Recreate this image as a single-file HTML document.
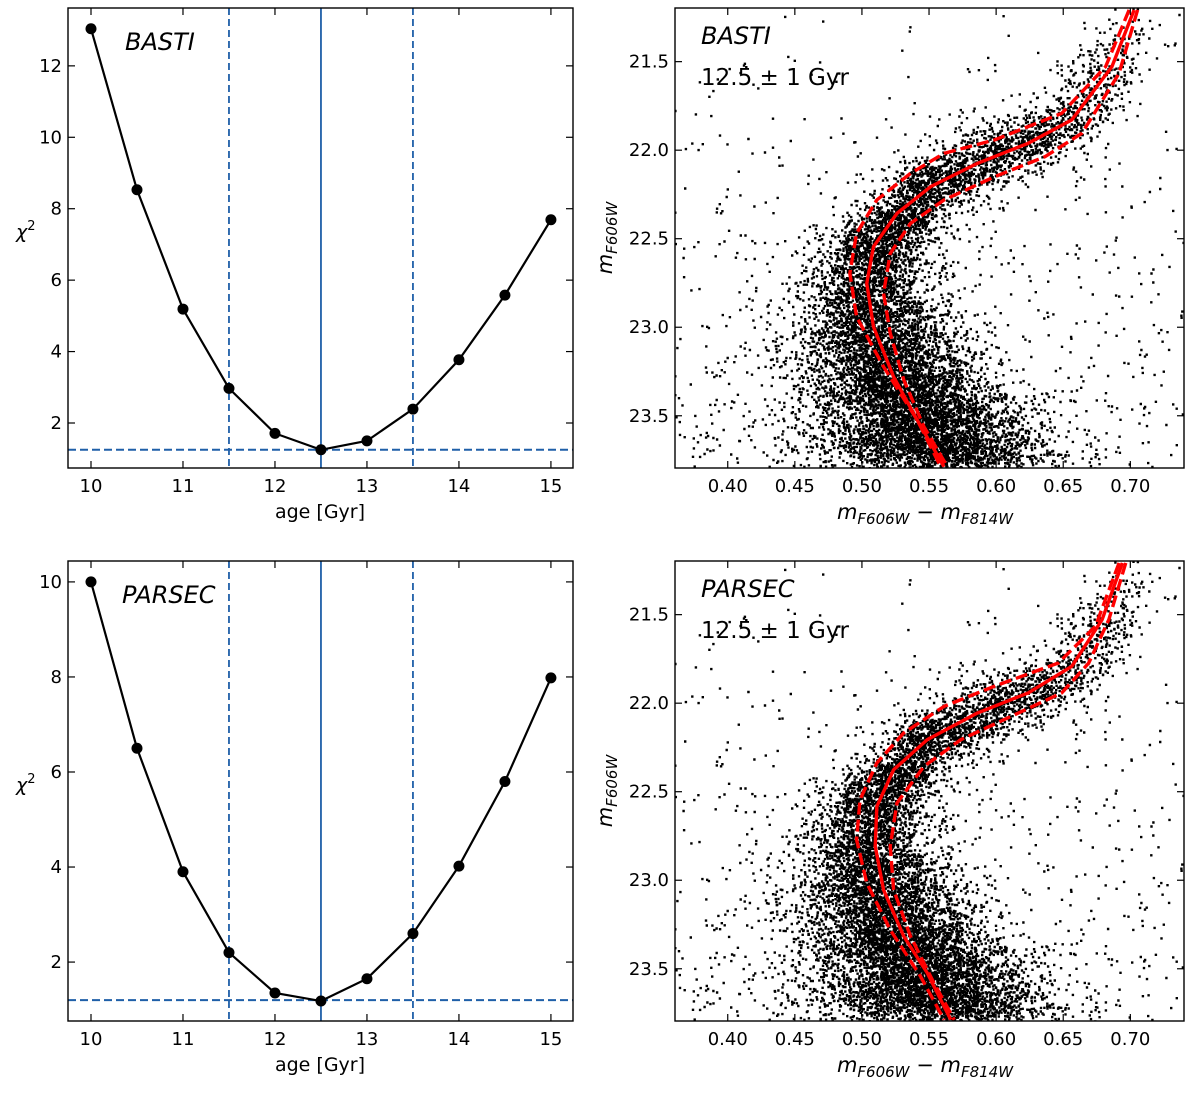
<!DOCTYPE html>
<html><head><meta charset="utf-8">
<style>
html,body{margin:0;padding:0;background:#fff;}
svg{display:block;font-family:"DejaVu Sans","Liberation Sans",sans-serif;}
</style></head>
<body>
<svg id="fig" width="1200" height="1093" viewBox="0 0 1200 1093" xmlns="http://www.w3.org/2000/svg"></svg>
<script>
// ---- chi2 panels data ----
const ages = [10,10.5,11,11.5,12,12.5,13,13.5,14,14.5,15];
const chiBasti = [13.04,8.53,5.19,2.97,1.71,1.25,1.50,2.39,3.77,5.58,7.69];
const chiParsec = [10.0,6.5,3.9,2.2,1.35,1.18,1.65,2.6,4.02,5.8,7.98];
const chiTicksTop = [2,4,6,8,10,12];
const chiTicksBot = [2,4,6,8,10];
const ageTicks = [10,11,12,13,14,15];
const bestAge = 12.5, ageLo = 11.5, ageHi = 13.5;
const minChiBasti = 1.25, minChiParsec = 1.2;
// ---- CMD data ----
const colTicks = [0.40,0.45,0.50,0.55,0.60,0.65,0.70];
const magTicks = [21.5,22.0,22.5,23.0,23.5];
const mags1 = [21.208,21.528,21.829,21.961,22.074,22.206,22.357,22.545,22.752,22.997,23.280,23.524,23.788];
const bastiMid = [0.7028,0.6863,0.6564,0.6239,0.5862,0.5512,0.5261,0.5086,0.5036,0.5086,0.5236,0.5412,0.5612];
const bastiYoungMag = [21.208,21.528,21.792,21.942,22.018,22.131,22.281,22.470,22.696,22.941,23.223,23.524,23.788];
const bastiYoung = [0.6991,0.6816,0.6489,0.5988,0.5612,0.5362,0.5111,0.4960,0.4910,0.4960,0.5161,0.5412,0.5587];
const bastiOldMag = [21.208,21.566,21.904,22.037,22.150,22.281,22.413,22.583,22.808,23.034,23.298,23.562,23.788];
const bastiOld = [0.7054,0.6916,0.6640,0.6364,0.5988,0.5612,0.5362,0.5211,0.5161,0.5211,0.5312,0.5462,0.5637];
const parsecMidMag = [21.208,21.528,21.792,21.942,22.055,22.206,22.376,22.583,22.808,23.054,23.317,23.524,23.788];
const parsecMid = [0.6941,0.6790,0.6564,0.6239,0.5862,0.5487,0.5236,0.5111,0.5099,0.5161,0.5312,0.5487,0.5662];
const parsecYoungMag = [21.208,21.566,21.773,21.904,22.018,22.168,22.338,22.545,22.771,23.016,23.280,23.543,23.788];
const parsecYoung = [0.6916,0.6740,0.6464,0.5988,0.5612,0.5312,0.5111,0.4986,0.4960,0.5036,0.5211,0.5437,0.5612];
const parsecOldMag = [21.208,21.528,21.773,21.942,22.074,22.206,22.357,22.564,22.808,23.054,23.317,23.581,23.788];
const parsecOld = [0.6966,0.6840,0.6690,0.6489,0.6113,0.5737,0.5462,0.5261,0.5211,0.5236,0.5362,0.5537,0.5688];

const NS="http://www.w3.org/2000/svg";
const svg=document.getElementById('fig');
function mk(tag,attrs,parent){const e=document.createElementNS(NS,tag);for(const k in attrs)e.setAttribute(k,attrs[k]);(parent||svg).appendChild(e);return e;}
function lin(d0,d1,r0,r1){return v=>r0+(v-d0)*(r1-r0)/(d1-d0);}

function frame(g,L,T,R,B,xs,ys,xt,yt,xfmt,yfmt){
  for(const v of xt){const x=xs(v);
    const t=mk('line',{x1:x,x2:x,y1:B,y2:B-7,stroke:'#000','stroke-width':1.2},g);
    
    mk('line',{x1:x,x2:x,y1:T,y2:T+7,stroke:'#000','stroke-width':1.2},g);
    const l=mk('text',{x:x,y:B+24,'font-size':18,'text-anchor':'middle'},g);l.textContent=xfmt(v);
    }
  for(const v of yt){const y=ys(v);
    mk('line',{x1:L,x2:L+7,y1:y,y2:y,stroke:'#000','stroke-width':1.2},g);
    mk('line',{x1:R,x2:R-7,y1:y,y2:y,stroke:'#000','stroke-width':1.2},g);
    const l=mk('text',{x:L-6,y:y+6,'font-size':18,'text-anchor':'end'},g);l.textContent=yfmt(v);
    }
  const r=mk('rect',{x:L,y:T,width:R-L,height:B-T,fill:'none',stroke:'#000','stroke-width':1.4},g);
  
}

function chiPanel(T,B,ymin,ymax,vals,minv,ticks,name,lx){
  const L=68,R=573;
  const g=mk('g',{});
  const xs=lin(9.75,15.24,L,R), ys=lin(ymin,ymax,B,T);
  const blue='#1f5fa8';
  for(const a of [ageLo,ageHi]){const d=mk('line',{x1:xs(a),x2:xs(a),y1:T,y2:B,stroke:blue,'stroke-width':1.8,'stroke-dasharray':'7,4'},g);
    }
  const s=mk('line',{x1:xs(bestAge),x2:xs(bestAge),y1:T,y2:B,stroke:blue,'stroke-width':1.8},g);
  
  const h=mk('line',{x1:L,x2:R,y1:ys(minv),y2:ys(minv),stroke:blue,'stroke-width':2,'stroke-dasharray':'8,4'},g);
  
  const pl=mk('polyline',{points:ages.map((a,i)=>xs(a)+','+ys(vals[i])).join(' '),fill:'none',stroke:'#000','stroke-width':2.2},g);
  
  ages.forEach((a,i)=>{const c=mk('circle',{cx:xs(a),cy:ys(vals[i]),r:5.5,fill:'#000'},g);
    });
  frame(g,L,T,R,B,xs,ys,ageTicks,ticks,v=>String(v),v=>String(v));
  const t=mk('text',{x:lx,y:T+42,'font-size':24,'font-style':'italic'},g);t.textContent=name;
  
  const xl=mk('text',{x:320,y:B+50,'font-size':19,'text-anchor':'middle'},g);xl.textContent='age [Gyr]';
  
  const yl=mk('text',{x:16,y:(T+B)/2,'font-size':19,'font-style':'italic'},g);yl.innerHTML='χ<tspan font-size="13" dy="-8" font-style="normal">2</tspan>';
  
}
chiPanel(8,468,0.74,13.62,chiBasti,minChiBasti,chiTicksTop,'BASTI',125);
chiPanel(561,1021,0.76,10.44,chiParsec,minChiParsec,chiTicksBot,'PARSEC',122);

// seeded PRNG for star field
let seed=12345;function rnd(){seed=(seed*1664525+1013904223)>>>0;return seed/4294967296;}
function gauss(){let u=rnd()||1e-9,v=rnd();return Math.sqrt(-2*Math.log(u))*Math.cos(2*Math.PI*v);}
const stars=[];
(function(){
  const L=675,R=1184,T=8,B=468;const xs=lin(0.3607,0.740,L,R), ys=lin(21.197,23.795,T,B);
  const pts=mags1.map((m,i)=>[xs(bastiMid[i]),ys(m)]);
  const seg=[];let tot=0;
  for(let i=0;i<pts.length-1;i++){const dx=pts[i+1][0]-pts[i][0],dy=pts[i+1][1]-pts[i][1];const len=Math.hypot(dx,dy);
    const mm=(mags1[i]+mags1[i+1])/2;const w=len*Math.pow(mm-21.0,1.8);seg.push([i,w]);tot+=w;}
  const xinv=lin(L,R,0.3607,0.740), yinv=lin(T,B,21.197,23.795);
  for(let k=0;k<10500;k++){
    let r=rnd()*tot,i=0;while(i<seg.length-1&&r>seg[i][1]){r-=seg[i][1];i++;}
    const f=rnd();const x=pts[i][0]+(pts[i+1][0]-pts[i][0])*f,y=pts[i][1]+(pts[i+1][1]-pts[i][1])*f;
    const mag=yinv(y);
    const wide=rnd()<0.15?1.8:1;
    let sx,sy,off=0;
    if(mag>22.35){sx=20+(mag-22.35)*24;sy=8;off=2;}
    else {sx=16;sy=14;}
    stars.push([xinv(x+off+gauss()*sx*wide),yinv(y+gauss()*sy*wide)]);
  }
  for(let k=0;k<650;k++){stars.push([0.36+rnd()*0.38,21.2+Math.pow(rnd(),0.6)*2.6]);}
})();

function cmdPanel(T,name,mid,midM,yg,ygM,od,odM){
  const L=675,R=1184,B=T+460;
  const g=mk('g',{});
  const xs=lin(0.3607,0.740,L,R), ys=lin(21.197,23.795,T,B);
  mk('clipPath',{id:'c'+T},g).appendChild(document.createElementNS(NS,'rect'));
  const cr=g.querySelector('clipPath rect');cr.setAttribute('x',L);cr.setAttribute('y',T);cr.setAttribute('width',R-L);cr.setAttribute('height',B-T);
  const sg=mk('g',{'clip-path':'url(#c'+T+')'},g);
  
  let d='';
  for(const s of stars){const x=xs(s[0]),y=ys(s[1]);d+='M'+(x-1.2).toFixed(1)+' '+y.toFixed(1)+'h2.4';}
  mk('path',{d:d,stroke:'#000','stroke-width':2.4,fill:'none'},sg);
  const line=(cs,ms,dash,nm)=>{const p=mk('polyline',{points:cs.map((c,i)=>xs(c)+','+ys(ms[i])).join(' '),fill:'none',stroke:'#ff0000','stroke-width':3.4,'stroke-linejoin':'round'},sg);
    if(dash)p.setAttribute('stroke-dasharray','12,5');
    };
  line(yg,ygM,true,'isochrone-11.5-gyr');line(od,odM,true,'isochrone-13.5-gyr');line(mid,midM,false,'isochrone-12.5-gyr');
  frame(g,L,T,R,B,xs,ys,colTicks,magTicks,v=>v.toFixed(2),v=>v.toFixed(1));
  const t=mk('text',{x:701,y:T+36,'font-size':24,'font-style':'italic'},g);t.textContent=name;
  
  const t2=mk('text',{x:701,y:T+77,'font-size':23},g);t2.textContent='12.5 ± 1 Gyr';
  
  const xl=mk('text',{x:925,y:B+51,'font-size':21,'text-anchor':'middle','font-style':'italic'},g);
  xl.innerHTML='m<tspan font-size="15" dy="5">F606W</tspan><tspan dy="-5" font-style="normal"> − </tspan>m<tspan font-size="15" dy="5">F814W</tspan>';
  
  const yl=mk('text',{x:0,y:0,'font-size':21,'text-anchor':'middle','font-style':'italic',transform:'translate(612,'+(T+230)+') rotate(-90)'},g);
  yl.innerHTML='m<tspan font-size="15" dy="5">F606W</tspan>';
  
}
cmdPanel(8,'BASTI',bastiMid,mags1,bastiYoung,bastiYoungMag,bastiOld,bastiOldMag);
cmdPanel(561,'PARSEC',parsecMid,parsecMidMag,parsecYoung,parsecYoungMag,parsecOld,parsecOldMag);
</script>
</body></html>
